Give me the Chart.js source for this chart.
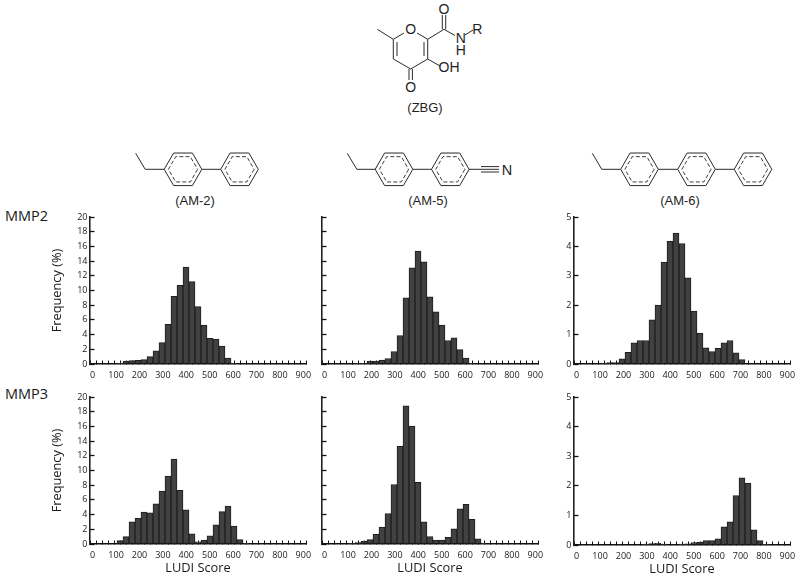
<!DOCTYPE html>
<html><head><meta charset="utf-8">
<script src="https://cdn.jsdelivr.net/npm/chart.js@4/dist/chart.umd.min.js"></script>
<style>
html,body{margin:0;padding:0;background:#fff;width:800px;height:578px;overflow:hidden}
canvas{position:absolute}
svg{position:absolute;left:0;top:0}
.t{position:absolute;font-family:"Open Sans",sans-serif;color:#1a1a1a}
</style></head><body>
<svg id="mol" width="800" height="578" xmlns="http://www.w3.org/2000/svg"></svg>
<div class="t" style="left:5px;top:206px;font-size:14.5px">MMP2</div>
<div class="t" style="left:5px;top:384px;font-size:14.5px">MMP3</div>
<script>
const scoreBins=[0,25,50,75,100,125,150,175,200,225,250,275,300,325,350,375,400,425,450,475,500,525,550,575,600,625,650,675,700,725,750,775,800,825,850,875,900];
const xTickLabels=[0,100,200,300,400,500,600,700,800,900];
const mmp2Am2=[0,0,0,0,0,.05,.4,.45,.5,.6,1,1.8,2.9,5.4,9.2,10.7,13.2,11.2,7.8,5.3,3.5,3.4,2.45,.8,.1,0,0,0,0,0,0,0,0,0,0,0,0];
const mmp2Am5=[0,0,0,0,0,0,.05,.1,.4,.4,.55,.75,1.7,3.85,9,13.1,15.35,13.9,9.15,7.1,5.3,3.2,3.55,1.95,.8,.05,0,0,0,0,0,0,0,0,0,0,0];
const mmp2Am6=[0,0,0,0,0,.03,.05,.05,.18,.4,.72,.8,.8,1.5,2,3.47,4.17,4.45,4.1,2.93,1.8,1.05,.55,.42,.53,.72,.8,.38,.15,0,0,0,0,0,0,0,0];
const mmp3Am2=[0,0,0,0,0,.45,1,3,3.5,4.35,4.25,5.45,7.2,9.25,11.55,7.3,4.65,1.4,.3,.55,1.1,2.6,4.4,5.15,2.45,.6,.05,0,0,0,0,0,0,0,0,0,0];
const mmp3Am5=[0,0,0,0,0,.05,.2,.4,.6,1.3,2.3,4.15,8.1,13.3,18.8,16.05,8.4,3,1,.55,.55,.9,2.05,4.8,5.4,3.35,.7,.03,0,0,0,0,0,0,0,0,0];
const mmp3Am6=[0,0,0,0,0,0,0,0,0,0,0,0,.03,.05,.06,.03,0,0,.03,.04,.08,.1,.15,.15,.21,.61,.78,1.67,2.27,2.09,.51,.15,.02,0,0,0,0];
const yTicksPct=20, yStepPct=2, yTicksLow=5, yStepLow=1;

const AX_W=45, AX_PAD=14, LAB_H=33, PLOT_W=216;
function panel(vals,left,top,h,ymax,ystep,showY,showX,showYLabels){
  const c=document.createElement('canvas');
  c.width=AX_W+PLOT_W+15;c.height=AX_PAD+h+LAB_H;
  c.style.left=(left-AX_W)+'px';c.style.top=(top-AX_PAD)+'px';
  document.body.appendChild(c);
  const font={family:'"Open Sans",sans-serif',size:9};
  const titleFont={family:'"Open Sans",sans-serif',size:12.8};
  new Chart(c,{type:'bar',
    data:{datasets:[{data:scoreBins.map((x,i)=>({x,y:vals[i]})).filter(p=>p.y>0),
      backgroundColor:'#414141',borderColor:'#1e1e1e',borderWidth:1,borderSkipped:false,
      barPercentage:1,categoryPercentage:1,xAxisID:'x',yAxisID:'y'}]},
    options:{responsive:false,animation:false,devicePixelRatio:1,
      layout:{padding:{top:AX_PAD,right:15,left:0,bottom:0}},
      plugins:{legend:{display:false},tooltip:{enabled:false}},
      scales:{
        x:{type:'linear',position:'bottom',weight:0,min:0,max:900,offset:false,
          ticks:{display:false,stepSize:25,autoSkip:false,maxRotation:0},
          grid:{offset:false,drawOnChartArea:false,tickLength:-3.5,tickColor:'#111',tickWidth:1},
          border:{display:true,color:'#111',width:1.5},
          afterFit(s){s.height=0}},
        xLabels:{type:'linear',axis:'x',position:'bottom',weight:1,min:-11.4,max:911.4,offset:false,
          afterBuildTicks(s){s.ticks=xTickLabels.map(value=>({value}))},
          ticks:{autoSkip:false,maxRotation:0,padding:-2,font,color:'#1a1a1a',callback:v=>String(v)},
          grid:{display:false},border:{display:false},
          title:{display:showX,text:'LUDI Score',font:titleFont,color:'#1a1a1a',padding:{top:0,bottom:1}},
          afterFit(s){s.height=LAB_H}},
        y:{type:'linear',position:'left',min:0,max:ymax,
          ticks:{stepSize:ystep,padding:7,font,color:'#1a1a1a',autoSkip:false,display:showYLabels},
          grid:{drawOnChartArea:false,tickLength:-4.5,tickColor:'#111',tickWidth:1.3},
          border:{display:true,color:'#222',width:1.6},
          title:{display:showY,text:'Frequency (%)',font:titleFont,color:'#1a1a1a',padding:{top:5,bottom:0}},
          afterFit(s){s.width=AX_W}}
      }}});
}
panel(mmp2Am2,90,217,147,yTicksPct,yStepPct,true,false,true);
panel(mmp2Am5,322,217,147,yTicksPct,yStepPct,false,false,false);
panel(mmp2Am6,574,217,147,yTicksLow,yStepLow,false,false,true);
panel(mmp3Am2,90,397,147,yTicksPct,yStepPct,true,true,true);
panel(mmp3Am5,322,397,147,yTicksPct,yStepPct,false,true,false);
panel(mmp3Am6,574,397,148,yTicksLow,yStepLow,false,true,true);

// Chemical structures (decoration above the chart panels)
const svg=document.getElementById('mol');let out='';
const line=(x1,y1,x2,y2,w)=>`<line x1="${x1}" y1="${y1}" x2="${x2}" y2="${y2}" stroke="#2a2a2a" stroke-width="${w||1}"/>`;
const text=(x,y,s,size)=>`<text x="${x}" y="${y}" text-anchor="middle" dominant-baseline="central" font-family="'Liberation Sans',sans-serif" font-size="${size||13}" fill="#1f1f1f">${s}</text>`;
function ring(cx,cy){
  const R=18.8,r=14.6,pts=[],ptsIn=[];
  for(let i=0;i<6;i++){const a=Math.PI/3*i;
    pts.push([cx+R*Math.cos(a),cy+R*Math.sin(a)]);ptsIn.push([cx+r*Math.cos(a),cy+r*Math.sin(a)]);}
  out+=`<polygon points="${pts.map(p=>p.join(',')).join(' ')}" fill="none" stroke="#2a2a2a" stroke-width="1"/>`;
  out+=`<polygon points="${ptsIn.map(p=>p.join(',')).join(' ')}" fill="none" stroke="#2a2a2a" stroke-width="0.9" stroke-dasharray="4 2.2"/>`;
}
function ethyl(x){out+=`<polyline points="${x},153.3 ${x+9.5},169.3 ${x+28.3},169.3" fill="none" stroke="#2a2a2a" stroke-width="1"/>`;}
// AM-2
ethyl(135.7);ring(183,169.3);out+=line(201.8,169.3,220.7,169.3);ring(239.5,169.3);out+=text(195,200,'(AM-2)');
// AM-5
ethyl(347.3);ring(394,169.3);out+=line(412.8,169.3,431.5,169.3);ring(450.3,169.3);
out+=line(469,169.3,480,169.3);out+=line(480,169.3,499,169.3);out+=line(481,166.6,499,166.6);out+=line(481,172,499,172);
out+=text(507,170,'N',14.5);out+=text(428,200,'(AM-5)');
// AM-6
ethyl(592.3);ring(639.5,169.3);out+=line(658.3,169.3,677.7,169.3);ring(696.5,169.3);out+=line(715.3,169.3,734.3,169.3);ring(753,169.3);out+=text(680,200,'(AM-6)');
// ZBG
out+=line(377.3,29.3,393.3,39.3);
out+=line(393.3,39.3,404,33);out+=line(417,33,427.7,39.3);
out+=line(393.3,39.3,393.3,59);out+=line(397,42,397,56);
out+=line(393.3,59,410.7,69);out+=line(410.7,69,427.7,59);
out+=line(427.7,59,427.7,39.3);out+=line(424,56,424,42);
out+=line(409,69,409,80);out+=line(412.4,69,412.4,80);
out+=line(427.7,59,440,66);
out+=line(427.7,39.3,444,29.3);
out+=line(442.3,29.3,442.3,15);out+=line(445.7,29.3,445.7,15);
out+=line(444,29.3,455,35.5);out+=line(465,35,473,30);
out+=text(410.7,29,'O',14);out+=text(410.7,86.7,'O',14);out+=text(444,9.3,'O',14);
out+=text(460.7,38.3,'N',14);out+=text(460.7,50,'H',14);out+=text(477.3,29,'R',14);out+=text(449,66.7,'OH',14);
out+=text(425,107.3,'(ZBG)');
svg.innerHTML=out;
</script>
</body></html>
